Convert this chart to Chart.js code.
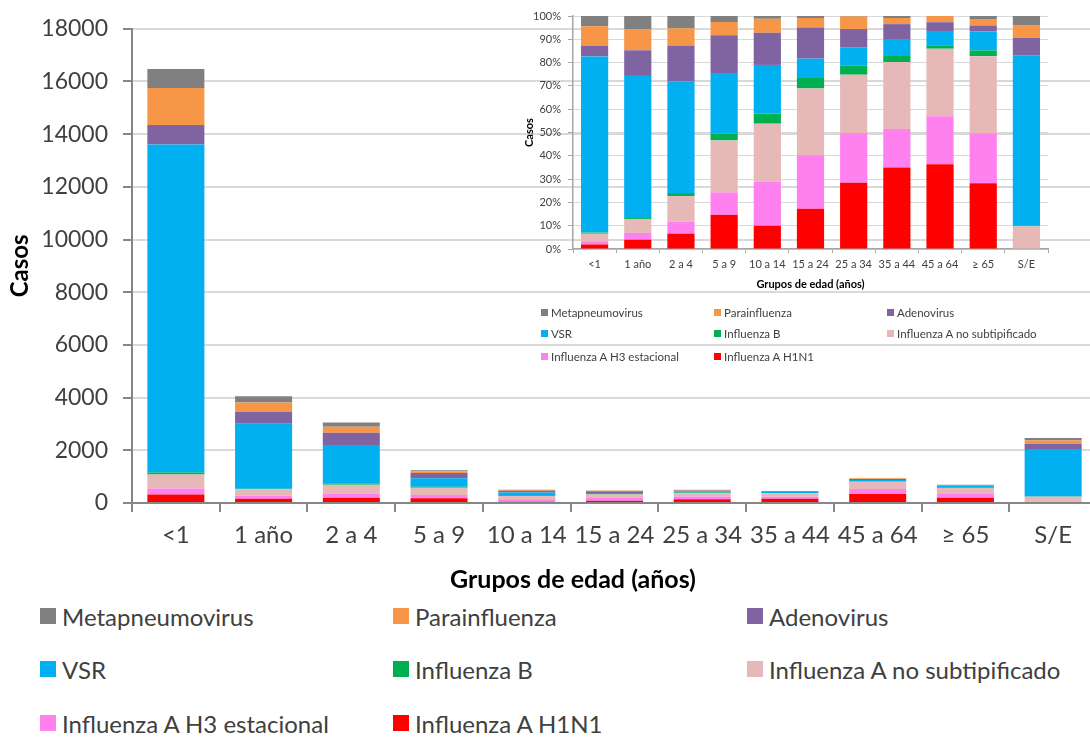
<!DOCTYPE html>
<html>
<head>
<meta charset="utf-8">
<script src="https://cdn.jsdelivr.net/npm/chart.js@4.4.1/dist/chart.umd.min.js"></script>
<style>
  body { margin: 0; background: #fff; font-family: Lato, sans-serif; }
  #wrap { position: relative; width: 1090px; height: 737px; overflow: hidden; }
  #mainChart { position: absolute; left: 0; top: 0; }
  #insetChart { position: absolute; left: 515px; top: 0; }
  .xtitle { position: absolute; font-weight: bold; color: #000; white-space: nowrap; transform: translate(-50%, -50%); }
  .leg { position: absolute; display: flex; align-items: center; color: #404040; white-space: nowrap; }
  .leg i { display: inline-block; flex: none; }
</style>
</head>
<body>
<div id="wrap">
  <canvas id="mainChart" width="1100" height="600"></canvas>
  <canvas id="insetChart" width="545" height="291"></canvas>
  <div class="xtitle" style="left:573px; top:578px; font-size:25px;">Grupos de edad (años)</div>
  <div id="mainLegend"></div>
  <div id="insetLegend"></div>
</div>
<script>
// age groups
const categories = ['<1', '1 año', '2 a 4', '5 a 9', '10 a 14', '15 a 24', '25 a 34', '35 a 44', '45 a 64', '≥ 65', 'S/E'];

// cases per age group
const h1n1            = [320, 162, 201, 182, 50, 81, 142, 161, 342, 195, 0];
const h3Estacional    = [230, 117, 156, 119, 95, 108, 107, 76, 194, 148, 0];
const fluANoSubtip    = [530, 243, 336, 277, 124, 135, 125, 132, 272, 229, 240];
const fluB            = [80, 16, 40, 37, 21, 21, 20, 12, 14, 17, 7];
const vsr             = [12450, 2470, 1464, 322, 105, 39, 38, 32, 54, 56, 1806];
const adenovirus      = [740, 446, 470, 200, 69, 63, 40, 31, 39, 18, 185];
const parainfluenza   = [1400, 365, 223, 71, 30, 19, 27, 12, 25, 19, 136];
const metapneumovirus = [720, 231, 162, 32, 6, 4, 1, 4, 0, 9, 96];

const seriesNames = ['Influenza A H1N1', 'Influenza A H3 estacional', 'Influenza A no subtipificado',
  'Influenza B', 'VSR', 'Adenovirus', 'Parainfluenza', 'Metapneumovirus'];
const seriesData = [h1n1, h3Estacional, fluANoSubtip, fluB, vsr, adenovirus, parainfluenza, metapneumovirus];
const seriesColors = ['#FF0000', '#FF80EF', '#E6B9B8', '#00B050', '#00B0F0', '#8064A2', '#F79646', '#808080'];

const mainTicks = { min: 0, max: 18000, step: 2000 };
const insetTicks = { min: 0, max: 100, step: 10 };

const totals = categories.map((_, i) => seriesData.reduce((s, arr) => s + arr[i], 0));

const txt = '#404040';
const axisGray = '#868686';
const gridGray = '#D9D9D9';

// main chart
new Chart(document.getElementById('mainChart'), {
  type: 'bar',
  data: {
    labels: categories,
    datasets: seriesNames.map((name, k) => ({
      label: name,
      data: seriesData[k],
      backgroundColor: seriesColors[k],
      borderWidth: 0,
      barPercentage: 0.65,
      categoryPercentage: 1
    }))
  },
  options: {
    responsive: false,
    animation: false,
    layout: { padding: { left: 0, top: 21, right: 3, bottom: 0 } },
    plugins: { legend: { display: false }, tooltip: { enabled: false } },
    scales: {
      x: {
        stacked: true,
        grid: { drawOnChartArea: false, drawTicks: true, tickLength: 9, tickColor: axisGray, lineWidth: 2, offset: true },
        border: { color: axisGray, width: 2 },
        ticks: { font: { family: 'Lato', size: 24 }, color: txt, padding: 9, maxRotation: 0, autoSkip: false },
        afterFit: s => { s.height = 97; }
      },
      y: {
        stacked: true,
        min: mainTicks.min,
        max: mainTicks.max,
        grid: { color: gridGray, lineWidth: 2, tickLength: 9, tickColor: axisGray },
        border: { color: axisGray, width: 2 },
        ticks: { stepSize: mainTicks.step, font: { family: 'Lato', size: 23 }, color: txt, padding: 15, callback: v => String(v) },
        title: { display: true, text: 'Casos', font: { family: 'Lato', size: 24, weight: 'bold' }, color: '#000', padding: { top: 6, bottom: 0 } },
        afterFit: s => { s.width = 132; }
      }
    }
  }
});

// inset chart: same counts as share of each age group
new Chart(document.getElementById('insetChart'), {
  type: 'bar',
  data: {
    labels: categories,
    datasets: seriesNames.map((name, k) => ({
      label: name,
      data: seriesData[k].map((v, i) => v / totals[i] * 100),
      backgroundColor: seriesColors[k],
      borderWidth: 0,
      barPercentage: 0.63,
      categoryPercentage: 1
    }))
  },
  options: {
    responsive: false,
    animation: false,
    layout: { padding: { left: 0, top: 16, right: 12, bottom: 0 } },
    plugins: { legend: { display: false }, tooltip: { enabled: false } },
    scales: {
      x: {
        stacked: true,
        grid: { drawOnChartArea: false, drawTicks: true, tickLength: 4, tickColor: '#A6A6A6', lineWidth: 1, offset: true },
        border: { color: '#A6A6A6', width: 1.5 },
        ticks: { font: { family: 'Lato', size: 11 }, color: txt, padding: 5, maxRotation: 0, autoSkip: false },
        title: { display: true, text: 'Grupos de edad (años)', font: { family: 'Lato', size: 11, weight: 'bold' }, color: '#000', padding: 0 },
        afterFit: s => { s.height = 42; }
      },
      y: {
        stacked: true,
        min: insetTicks.min,
        max: insetTicks.max,
        grid: { color: gridGray, lineWidth: 1, tickLength: 5, tickColor: '#A6A6A6' },
        border: { color: '#A6A6A6', width: 1.5 },
        ticks: { stepSize: insetTicks.step, font: { family: 'Lato', size: 11 }, color: txt, padding: 7, callback: v => v + '%' },
        title: { display: true, text: 'Casos', font: { family: 'Lato', size: 11, weight: 'bold' }, color: '#000', padding: { top: 8, bottom: 0 } },
        afterFit: s => { s.width = 58; }
      }
    }
  }
});

// HTML legends, 3 columns, top series first
function buildLegend(el, cols, rows, sq, gap, fontSize) {
  const order = seriesNames.map((_, k) => k).reverse();
  order.forEach((k, n) => {
    const d = document.createElement('div');
    d.className = 'leg';
    d.style.left = cols[n % 3] + 'px';
    d.style.top = (rows[Math.floor(n / 3)] - 15) + 'px';
    d.style.height = '30px';
    d.style.fontSize = fontSize + 'px';
    const i = document.createElement('i');
    i.style.width = sq + 'px';
    i.style.height = sq + 'px';
    i.style.background = seriesColors[k];
    i.style.marginRight = gap + 'px';
    d.appendChild(i);
    d.appendChild(document.createTextNode(seriesNames[k]));
    el.appendChild(d);
  });
}
buildLegend(document.getElementById('mainLegend'), [40, 393, 747], [616, 669, 723], 16, 6, 24);
buildLegend(document.getElementById('insetLegend'), [541, 714, 887], [312, 333, 356], 7, 3, 11.5);
</script>
</body>
</html>
